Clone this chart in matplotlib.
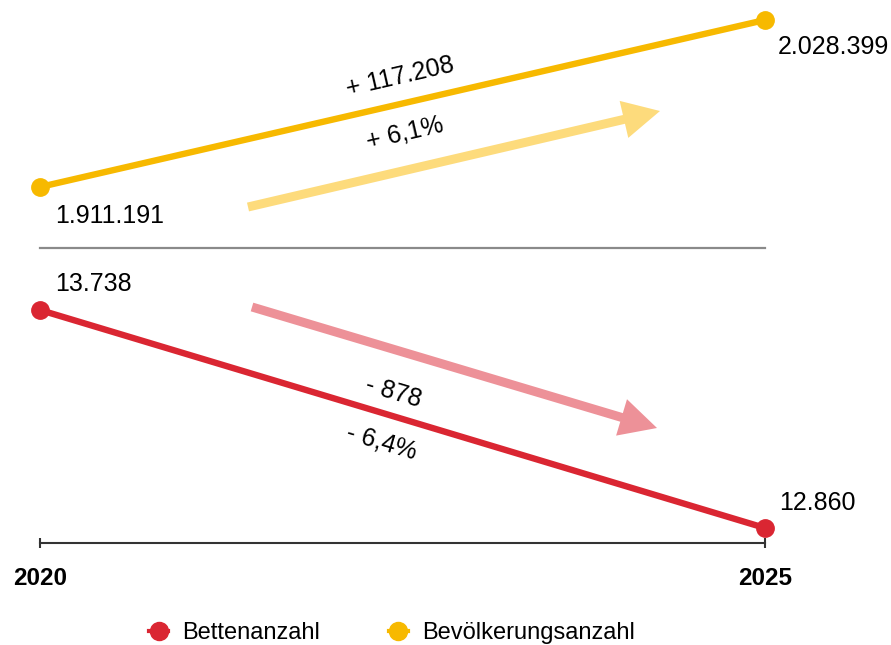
import matplotlib
matplotlib.use("Agg")
import matplotlib.pyplot as plt
from matplotlib.patches import FancyArrow
from matplotlib.lines import Line2D

plt.rcParams['font.family'] = ['Liberation Sans', 'DejaVu Sans']

# data
years = [2020, 2025]
bevoelkerung = [1911191, 2028399]
betten = [13738, 12860]
bev_labels = ['1.911.191', '2.028.399']
bet_labels = ['13.738', '12.860']
bev_diff = '+ 117.208'
bev_pct = '+ 6,1%'
bet_diff = '- 878'
bet_pct = '- 6,4%'

YELLOW = '#F7B900'
RED = '#DA2632'
W, H = 891, 645

fig = plt.figure(figsize=(W / 100, H / 100), dpi=100)

# x range so that 2020 -> px 40, 2025 -> px 765
xpp = 5 / 725
xlim = (2020 - 40 * xpp, 2025 + (W - 765) * xpp)

# top panel: population (px 0..248)
ax_top = fig.add_axes([0, 1 - 248 / H, 1, 248 / H])
ppy = (bevoelkerung[1] - bevoelkerung[0]) / 167
ax_top.set_xlim(*xlim)
ax_top.set_ylim(bevoelkerung[0] - 61 * ppy, bevoelkerung[1] + 20 * ppy)
ax_top.plot(years, bevoelkerung, color=YELLOW, lw=4.6, marker='o', ms=12.5,
            solid_capstyle='butt', zorder=3)
ax_top.axis('off')

# bottom panel: beds (px 248..543)
ax_bot = fig.add_axes([0, 1 - 543 / H, 1, (543 - 248) / H])
bpy = (betten[0] - betten[1]) / 218
ax_bot.set_xlim(*xlim)
ax_bot.set_ylim(betten[1] - 15 * bpy, betten[0] + 62 * bpy)
ax_bot.plot(years, betten, color=RED, lw=4.6, marker='o', ms=12.5,
            solid_capstyle='butt', zorder=3, clip_on=False)
for s in ['top', 'left', 'right']:
    ax_bot.spines[s].set_visible(False)
ax_bot.spines['bottom'].set_bounds(2020, 2025)
ax_bot.spines['bottom'].set_color('#333333')
ax_bot.spines['bottom'].set_linewidth(1.5)
ax_bot.set_yticks([])
ax_bot.set_xticks(years)
ax_bot.set_xticklabels([str(y) for y in years], fontsize=17.5, fontweight='bold')
ax_bot.tick_params(axis='x', direction='inout', length=7, width=1.5,
                   color='#333333', pad=14)
ax_bot.patch.set_alpha(0)

# value labels
ax_top.annotate(bev_labels[0], (years[0], bevoelkerung[0]), xytext=(15, -29),
                textcoords='offset pixels', fontsize=18, ha='left', va='center')
ax_top.annotate(bev_labels[1], (years[1], bevoelkerung[1]), xytext=(13, -27),
                textcoords='offset pixels', fontsize=18, ha='left', va='center')
ax_bot.annotate(bet_labels[0], (years[0], betten[0]), xytext=(15, 26),
                textcoords='offset pixels', fontsize=18, ha='left', va='center')
ax_bot.annotate(bet_labels[1], (years[1], betten[1]), xytext=(14, 25),
                textcoords='offset pixels', fontsize=18, ha='left', va='center')

# overlay in pixel coordinates for arrows, separator and change labels
ov = fig.add_axes([0, 0, 1, 1])
ov.set_xlim(0, W)
ov.set_ylim(H, 0)
ov.axis('off')
ov.patch.set_alpha(0)

ov.plot([40, 765], [248, 248], color='#8a8a8a', lw=1.6)

def arrow(x0, y0, x1, y1, color):
    ov.add_patch(FancyArrow(x0, y0, x1 - x0, y1 - y0, width=9, head_width=38,
                            head_length=37, length_includes_head=True,
                            color=color, lw=0))

arrow(248, 207, 660, 111, '#FDDB7C')
arrow(252, 307, 657, 428, '#ED9198')

ov.text(400, 77, bev_diff, fontsize=18, rotation=13, ha='center', va='center')
ov.text(405, 133, bev_pct, fontsize=18, rotation=13, ha='center', va='center')
ov.text(393, 392, bet_diff, fontsize=18, rotation=-16.5, ha='center', va='center')
ov.text(382, 442, bet_pct, fontsize=18, rotation=-16.5, ha='center', va='center')

handles = [Line2D([], [], color=RED, lw=3, marker='o', ms=13),
           Line2D([], [], color=YELLOW, lw=3, marker='o', ms=13)]
fig.legend(handles, ['Bettenanzahl', 'Bevölkerungsanzahl'], loc='center',
           bbox_to_anchor=(0.44, 1 - 633 / H), ncol=2, frameon=False,
           fontsize=17, handlelength=0.8, handletextpad=0.6, columnspacing=2.9)

fig.savefig('out.png', dpi=100)
